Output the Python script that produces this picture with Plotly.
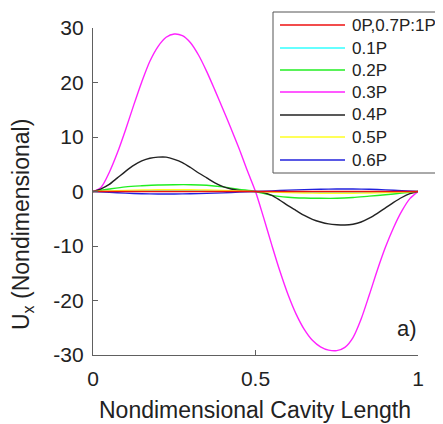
import plotly.graph_objects as go

# ---------------- data ----------------
x_fine = [0.0, 0.025, 0.05, 0.075, 0.1, 0.125, 0.15, 0.175, 0.2, 0.225,
          0.25, 0.275, 0.3, 0.325, 0.35, 0.375, 0.4, 0.425, 0.45, 0.475,
          0.5, 0.525, 0.55, 0.575, 0.6, 0.625, 0.65, 0.675, 0.7, 0.725,
          0.75, 0.775, 0.8, 0.825, 0.85, 0.875, 0.9, 0.925, 0.95, 0.975, 1.0]

u_03P = [0.0, 0.8, 3.5, 7.1, 11.3, 15.8, 20.1, 23.9, 26.6, 28.3,
         28.9, 28.6, 27.3, 25.0, 22.0, 18.6, 15.1, 11.5, 7.8, 3.8,
         0.0, -4.8, -9.8, -14.6, -18.9, -22.5, -25.3, -27.3, -28.5, -29.1,
         -29.2, -28.6, -26.8, -23.4, -19.0, -14.4, -10.2, -6.6, -3.6, -1.3, 0.0]

u_04P = [0.0, 0.5, 1.3, 2.5, 3.7, 4.8, 5.6, 6.1, 6.3, 6.3,
         5.9, 5.3, 4.4, 3.4, 2.5, 1.6, 0.9, 0.45, 0.18, 0.05,
         0.0, -0.2, -0.7, -1.6, -2.6, -3.5, -4.4, -5.1, -5.6, -5.95,
         -6.1, -6.15, -6.0, -5.6, -4.9, -4.0, -3.0, -2.0, -1.1, -0.4, 0.0]

x_coarse = [0.0, 0.05, 0.1, 0.15, 0.2, 0.25, 0.3, 0.35, 0.4, 0.45, 0.5,
            0.55, 0.6, 0.65, 0.7, 0.75, 0.8, 0.85, 0.9, 0.95, 1.0]

u_0P = [0.0] * 21
u_01P = [0.0, 0.03, 0.06, 0.08, 0.09, 0.1, 0.09, 0.08, 0.06, 0.03, 0.0,
         -0.03, -0.06, -0.08, -0.09, -0.1, -0.09, -0.08, -0.06, -0.03, 0.0]
u_02P = [0.0, 0.45, 0.85, 1.05, 1.2, 1.25, 1.25, 1.15, 0.85, 0.4, 0.0,
         -0.7, -1.05, -1.2, -1.25, -1.25, -1.1, -0.85, -0.6, -0.3, 0.0]
u_05P = [0.0, 0.1, 0.2, 0.28, 0.32, 0.33, 0.32, 0.28, 0.2, 0.1, 0.0,
         -0.1, -0.2, -0.28, -0.32, -0.33, -0.32, -0.28, -0.2, -0.1, 0.0]
u_06P = [0.0, -0.15, -0.3, -0.4, -0.45, -0.45, -0.42, -0.35, -0.25, -0.12, 0.0,
         0.12, 0.25, 0.35, 0.42, 0.45, 0.45, 0.4, 0.3, 0.15, 0.0]

legend_names = ["0P,0.7P:1P", "0.1P", "0.2P", "0.3P", "0.4P", "0.5P", "0.6P"]

x_ticks = [0, 0.5, 1]
x_tick_labels = ["0", "0.5", "1"]
y_ticks = [-30, -20, -10, 0, 10, 20, 30]
y_tick_labels = ["-30", "-20", "-10", "0", "10", "20", "30"]

FONT = "Liberation Sans, Arial, sans-serif"
TXT = "#222222"

colors = {
    "0P,0.7P:1P": "#ee1111", "0.1P": "#33ffff", "0.2P": "#22ee22",
    "0.3P": "#ff22ff", "0.4P": "#222222", "0.5P": "#ffff22", "0.6P": "#2222dd",
}

# drawing order (red last so it sits on top)
series = [
    ("0.1P", x_coarse, u_01P),
    ("0.2P", x_coarse, u_02P),
    ("0.3P", x_fine, u_03P),
    ("0.4P", x_fine, u_04P),
    ("0.5P", x_coarse, u_05P),
    ("0.6P", x_coarse, u_06P),
    ("0P,0.7P:1P", x_coarse, u_0P),
]

fig = go.Figure()
for name, xs, ys in series:
    fig.add_trace(go.Scatter(
        x=xs, y=ys, mode="lines", name=name, showlegend=False,
        line=dict(color=colors[name], width=1.4, shape="spline", smoothing=0.8),
    ))

# ---- layout geometry (page body has an 8px margin) ----
PL, PR, PT, PB = 93.0, 418.0, 28.0, 355.0  # plot area in window pixels


def px(xp):
    return (xp - PL) / (PR - PL)


def py(yp):
    return (PB - yp) / (PB - PT)


axis_common = dict(
    showgrid=False, zeroline=False, showline=True, linecolor="#606060",
    linewidth=1.2, ticks="inside", ticklen=5, tickcolor="#606060",
    tickfont=dict(family=FONT, size=21, color=TXT), mirror=False,
)

shapes = [dict(type="rect", xref="paper", yref="paper",
               x0=px(273), x1=px(470), y0=py(173), y1=py(12),
               line=dict(color="#555555", width=1), fillcolor="white", layer="above")]
annotations = []
row_y = [25, 48, 70, 92, 115, 137, 160]
for name, ry in zip(legend_names, row_y):
    shapes.append(dict(type="line", xref="paper", yref="paper",
                       x0=px(280), x1=px(345), y0=py(ry), y1=py(ry),
                       line=dict(color=colors[name], width=1.4), layer="above"))
    annotations.append(dict(text=name, xref="paper", yref="paper",
                            x=px(350), y=py(ry), xanchor="left", yanchor="middle",
                            showarrow=False, font=dict(family=FONT, size=17, color=TXT)))

annotations += [
    dict(text="Nondimensional Cavity Length", xref="paper", yref="paper",
         x=px(255), y=py(410), xanchor="center", yanchor="middle", showarrow=False,
         font=dict(family=FONT, size=23, color=TXT)),
    dict(text="U<sub>x</sub> (Nondimensional)", xref="paper", yref="paper",
         x=px(22), y=py(225), xanchor="center", yanchor="middle", showarrow=False,
         textangle=-90, font=dict(family=FONT, size=23, color=TXT)),
    dict(text="a)", xref="paper", yref="paper",
         x=px(407), y=py(328), xanchor="center", yanchor="middle", showarrow=False,
         font=dict(family=FONT, size=22, color=TXT)),
]

fig.update_layout(
    width=435, height=416,
    margin=dict(l=PL - 8, r=435 - (PR - 8), t=PT - 8, b=416 - (PB - 8), autoexpand=False),
    plot_bgcolor="white", paper_bgcolor="white",
    font=dict(family=FONT, color=TXT),
    xaxis=dict(range=[0, 1], tickvals=x_ticks, ticktext=x_tick_labels,
               ticklabelstandoff=5, **axis_common),
    yaxis=dict(range=[-30, 30], tickvals=y_ticks, ticktext=y_tick_labels,
               ticklabelstandoff=4, **axis_common),
    showlegend=False,
    shapes=shapes,
    annotations=annotations,
)

fig.write_html("out.html")
